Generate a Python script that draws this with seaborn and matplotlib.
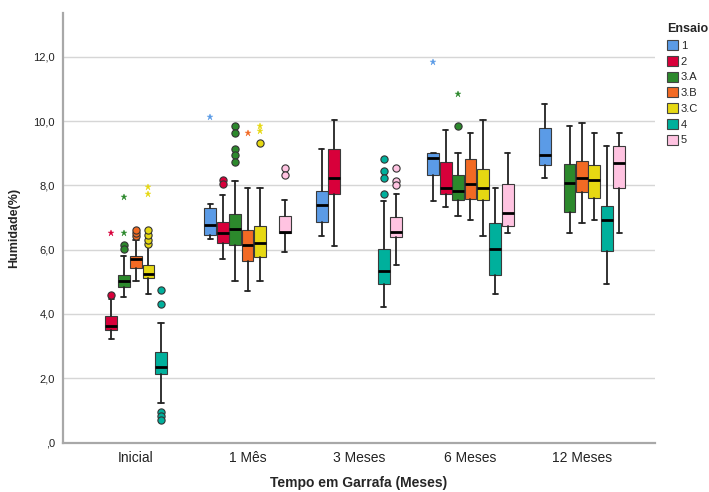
import numpy as np
import matplotlib
matplotlib.use("Agg")
import matplotlib.pyplot as plt
from matplotlib.patches import Patch
import seaborn as sns

# ---------------- data ----------------
categories = ["Inicial", "1 Mês", "3 Meses", "6 Meses", "12 Meses"]
series = ["1", "2", "3.A", "3.B", "3.C", "4", "5"]
colors = {"1": "#5b9be6", "2": "#d8003a", "3.A": "#2c892c", "3.B": "#f26a24",
          "3.C": "#e6d812", "4": "#00b09c", "5": "#ffc3e1"}
N = None
q1 = {"1": [N, 6.46, 6.87, 8.33, 8.63], "2": [3.50, 6.22, 7.73, 7.73, N],
      "3.A": [4.83, 6.13, N, 7.53, 7.17], "3.B": [5.42, 5.66, N, 7.58, 7.78],
      "3.C": [5.13, 5.77, N, 7.53, 7.62], "4": [2.12, N, 4.93, 5.22, 5.96],
      "5": [N, 6.51, 6.38, 6.72, 7.92]}
med = {"1": [N, 6.77, 7.38, 8.85, 8.93], "2": [3.63, 6.53, 8.22, 7.93, N],
       "3.A": [5.01, 6.64, N, 7.83, 8.08], "3.B": [5.72, 6.13, N, 8.04, 8.23],
       "3.C": [5.24, 6.22, N, 7.93, 8.18], "4": [2.36, N, 5.32, 6.02, 6.92],
       "5": [N, 6.55, 6.56, 7.13, 8.68]}
q3 = {"1": [N, 7.28, 7.83, 9.02, 9.78], "2": [3.92, 6.86, 9.13, 8.71, N],
      "3.A": [5.22, 7.11, N, 8.32, 8.67], "3.B": [5.81, 6.62, N, 8.82, 8.77],
      "3.C": [5.53, 6.72, N, 8.52, 8.62], "4": [2.80, N, 6.01, 6.82, 7.37],
      "5": [N, 7.03, 7.02, 8.03, 9.22]}
whislo = {"1": [N, 6.33, 6.43, 7.52, 8.23], "2": [3.22, 5.72, 6.12, 7.33, N],
          "3.A": [4.52, 5.01, N, 7.03, 6.52], "3.B": [5.01, 4.72, N, 6.92, 6.82],
          "3.C": [4.62, 5.01, N, 6.42, 6.93], "4": [1.22, N, 4.21, 4.62, 4.93],
          "5": [N, 5.92, 5.53, 6.51, 6.52]}
whishi = {"1": [N, 7.42, 9.14, 9.02, 10.53], "2": [4.46, 7.71, 10.02, 9.73, N],
          "3.A": [5.81, 8.13, N, 9.02, 9.83], "3.B": [6.30, 7.91, N, 9.62, 9.94],
          "3.C": [6.12, 7.91, N, 10.03, 9.63], "4": [3.71, N, 7.52, 7.93, 9.23],
          "5": [N, 7.53, 7.73, 9.02, 9.63]}
# outliers (circles) and extremes (stars): (category, series, value)
outliers = [("Inicial", "2", 4.58), ("Inicial", "3.A", 6.14), ("Inicial", "3.A", 6.03),
            ("Inicial", "3.B", 6.41), ("Inicial", "3.B", 6.51), ("Inicial", "3.B", 6.62),
            ("Inicial", "3.C", 6.18), ("Inicial", "3.C", 6.31), ("Inicial", "3.C", 6.45),
            ("Inicial", "3.C", 6.62), ("Inicial", "4", 4.73), ("Inicial", "4", 4.31),
            ("Inicial", "4", 0.95), ("Inicial", "4", 0.83), ("Inicial", "4", 0.71),
            ("1 Mês", "2", 8.17), ("1 Mês", "2", 8.03), ("1 Mês", "3.A", 9.85),
            ("1 Mês", "3.A", 9.64), ("1 Mês", "3.A", 9.13), ("1 Mês", "3.A", 8.93),
            ("1 Mês", "3.A", 8.73), ("1 Mês", "3.C", 9.33), ("1 Mês", "5", 8.53),
            ("1 Mês", "5", 8.33), ("3 Meses", "4", 8.82), ("3 Meses", "4", 8.43),
            ("3 Meses", "4", 8.22), ("3 Meses", "4", 7.73), ("3 Meses", "5", 8.53),
            ("3 Meses", "5", 8.12), ("3 Meses", "5", 8.02), ("6 Meses", "3.A", 9.83)]
extremes = [("Inicial", "2", 6.53), ("Inicial", "3.A", 6.53), ("Inicial", "3.A", 7.63),
            ("Inicial", "3.C", 7.94), ("Inicial", "3.C", 7.74), ("1 Mês", "1", 10.14),
            ("1 Mês", "3.B", 9.62), ("1 Mês", "3.C", 9.83), ("1 Mês", "3.C", 9.70),
            ("6 Meses", "1", 11.83), ("6 Meses", "3.A", 10.84)]
yticks = [0, 2, 4, 6, 8, 10, 12]

# ---------------- style ----------------
sns.set_theme(style="white")
plt.rcParams["font.family"] = ["Liberation Sans", "DejaVu Sans"]

fig = plt.figure(figsize=(7.09, 4.92), dpi=100)
ax = fig.add_axes([63 / 709, 1 - 442.5 / 492, (655 - 63) / 709, (442.5 - 13) / 492])

step = 0.1114
bw = 0.106


def pos(cat, s):
    return categories.index(cat) + (series.index(s) - 3) * step


for s in series:
    stats, positions = [], []
    for ci, cat in enumerate(categories):
        if med[s][ci] is None:
            continue
        stats.append(dict(med=med[s][ci], q1=q1[s][ci], q3=q3[s][ci],
                          whislo=whislo[s][ci], whishi=whishi[s][ci], fliers=[]))
        positions.append(pos(cat, s))
    ax.bxp(stats, positions=positions, widths=bw, capwidths=bw * 0.45,
           patch_artist=True, showfliers=False, manage_ticks=False,
           boxprops=dict(facecolor=colors[s], edgecolor="#3a3a3a", linewidth=0.8),
           medianprops=dict(color="black", linewidth=2.0),
           whiskerprops=dict(color="#222222", linewidth=1.3),
           capprops=dict(color="#222222", linewidth=1.3), zorder=3)

for cat, s, v in outliers:
    ax.plot(pos(cat, s), v, marker="o", markersize=5.2, markerfacecolor=colors[s],
            markeredgecolor="#333333", markeredgewidth=0.8, linestyle="none", zorder=4)
for cat, s, v in extremes:
    ax.plot(pos(cat, s), v, marker="*", markersize=5, markerfacecolor=colors[s],
            markeredgecolor=colors[s], markeredgewidth=0.3, linestyle="none", zorder=4)

ax.set_xlim(-0.655, 4.655)
ax.set_ylim(0, 13.36)
ax.set_xticks(range(len(categories)))
ax.set_xticklabels(categories, fontsize=10, color="#222222")
ax.set_yticks(yticks)
ax.set_yticklabels([(f"{v:.1f}".replace(".", ",") if v else ",0") for v in yticks],
                   fontsize=8, color="#222222")
ax.tick_params(axis="both", length=0, pad=6)
for v in yticks[1:]:
    ax.axhline(v, color="#d6d6d6", linewidth=1.0, zorder=1)
for side in ["top", "right"]:
    ax.spines[side].set_visible(False)
for side in ["left", "bottom"]:
    ax.spines[side].set_color("#a8a8a8")
    ax.spines[side].set_linewidth(1.6)

ax.set_xlabel("Tempo em Garrafa (Meses)", fontsize=10, fontweight="bold", labelpad=8)
ax.set_ylabel("Humidade(%)", fontsize=9, fontweight="bold", labelpad=9)

handles = [Patch(facecolor=colors[s], edgecolor="#444444", linewidth=0.8, label=s) for s in series]
leg = fig.legend(handles=handles, loc="upper left", bbox_to_anchor=(667 / 709, 1 - 23 / 492),
                 frameon=False, fontsize=8, title="Ensaio", alignment="left",
                 handlelength=1.0, handleheight=1.0, handletextpad=0.25, labelspacing=0.45,
                 borderaxespad=0, borderpad=0)
leg.get_title().set_fontweight("bold")
leg.get_title().set_fontsize(9)

fig.savefig("out.png", dpi=100)
